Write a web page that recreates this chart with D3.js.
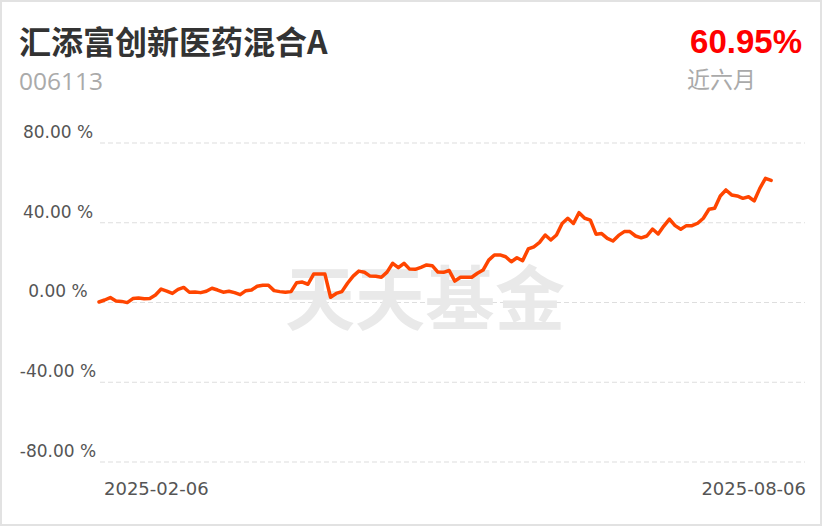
<!DOCTYPE html>
<html>
<head>
<meta charset="utf-8">
<script src="https://cdn.jsdelivr.net/npm/d3@7"></script>
<style>
  html, body { margin: 0; padding: 0; background: #fff; }
  svg { display: block; }
</style>
</head>
<body>
<svg id="chart" width="822" height="526"></svg>
<script>
const fundName = "汇添富创新医药混合A";
const fundCode = "006113";
const periodReturn = "60.95%";
const periodLabel = "近六月";
const watermark = "天天基金";
const yTicks = [80, 40, 0, -40, -80];
const xTickLabels = ["2025-02-06", "2025-08-06"];
const returns = [
  0, 1, 2.2, 0.5, 0.3, -0.3, 1.7, 2, 1.6, 1.8,
  3.5, 6.5, 5.5, 4.3, 6.3, 7.3, 4.9, 5, 4.7, 5.4,
  6.9, 6, 4.9, 5.4, 4.7, 3.7, 5.7, 6, 7.9, 8.4,
  8.4, 5.7, 5.2, 4.9, 5.2, 9.7, 10, 8.9, 14, 14,
  14, 2.4, 4.3, 5.2, 9.4, 13, 15.5, 14.9, 13, 12.9,
  12.4, 15, 19.4, 17.2, 19.4, 16.5, 16.4, 17.4, 18.6, 18.2,
  15, 14.9, 15.8, 10.5, 12.4, 12.4, 12.4, 14.4, 16, 21,
  23.6, 23.6, 22.7, 20.2, 22.2, 20.7, 26.6, 27.7, 29.9, 33.6,
  31.1, 33.6, 39.4, 42, 39.4, 44.8, 42, 41.1, 34, 34.3,
  31.9, 30.6, 33.4, 35.3, 35.3, 33.1, 32.2, 33.1, 36.6, 34.1,
  38.1, 41.6, 38.3, 36.5, 38.3, 38.3, 39.5, 42, 46.5, 47,
  53.2, 56.2, 53.7, 53.2, 52, 52.8, 50.7, 57, 62, 60.95
];

const svg = d3.select("#chart");
const W = 822, H = 526;

// card border
svg.append("rect").attr("x", 1).attr("y", 1).attr("width", W - 2).attr("height", H - 2)
  .attr("fill", "#fff").attr("stroke", "#e2e2e2").attr("stroke-width", 2);

// header
svg.append("text").attr("x", 19).attr("y", 54)
  .attr("font-family", "'Noto Sans CJK SC', sans-serif").attr("font-weight", 700)
  .attr("font-size", 32).attr("fill", "#333").text(fundName);
svg.append("text").attr("x", 19).attr("y", 90)
  .attr("font-family", "'Open Sans', sans-serif")
  .attr("font-size", 24.5).attr("fill", "#aaa").text(fundCode);
svg.append("text").attr("x", 802).attr("y", 53).attr("text-anchor", "end")
  .attr("font-family", "'Liberation Sans', Arial, sans-serif").attr("font-weight", 700)
  .attr("font-size", 33).attr("fill", "#ff0000").text(periodReturn);
svg.append("text").attr("x", 687).attr("y", 88)
  .attr("font-family", "'Noto Sans CJK SC', sans-serif")
  .attr("font-size", 23).attr("fill", "#aaa").text(periodLabel);

// scales
const x = d3.scaleLinear().domain([0, 125]).range([99, 805]);
const y = d3.scaleLinear().domain([-80, 80]).range([461.5, 142.5]);

// grid + y labels via axis
const yAxis = d3.axisLeft(y).tickValues(yTicks)
  .tickSizeInner(-705).tickSizeOuter(0)
  .tickFormat(d => d.toFixed(2) + " %");
const gy = svg.append("g").attr("transform", "translate(100,0)").call(yAxis);
gy.select(".domain").remove();
gy.selectAll(".tick line").attr("stroke", "#dedede").attr("stroke-width", 1.2)
  .attr("stroke-dasharray", "5,3");
gy.selectAll(".tick text")
  .attr("x", -42).attr("dy", "-0.3em").attr("text-anchor", "middle")
  .attr("font-family", "'DejaVu Sans', sans-serif").attr("font-size", 17)
  .attr("fill", "#555");

// watermark
svg.append("text").attr("x", 425).attr("y", 325).attr("text-anchor", "middle")
  .attr("font-family", "'Noto Sans CJK SC', sans-serif").attr("font-weight", 700)
  .attr("font-size", 70).attr("fill", "#e9e9e9")
  .text(watermark);

// x labels
svg.append("text").attr("x", 104).attr("y", 495)
  .attr("font-family", "'DejaVu Sans', sans-serif").attr("font-size", 18)
  .attr("fill", "#555").text(xTickLabels[0]);
svg.append("text").attr("x", 806).attr("y", 495).attr("text-anchor", "end")
  .attr("font-family", "'DejaVu Sans', sans-serif").attr("font-size", 18)
  .attr("fill", "#555").text(xTickLabels[1]);

// line
const line = d3.line().x((d, i) => x(i)).y(d => y(d));
svg.append("path").datum(returns).attr("d", line)
  .attr("fill", "none").attr("stroke", "#ff4500").attr("stroke-width", 3.5)
  .attr("stroke-linejoin", "round").attr("stroke-linecap", "round");
</script>
</body>
</html>
